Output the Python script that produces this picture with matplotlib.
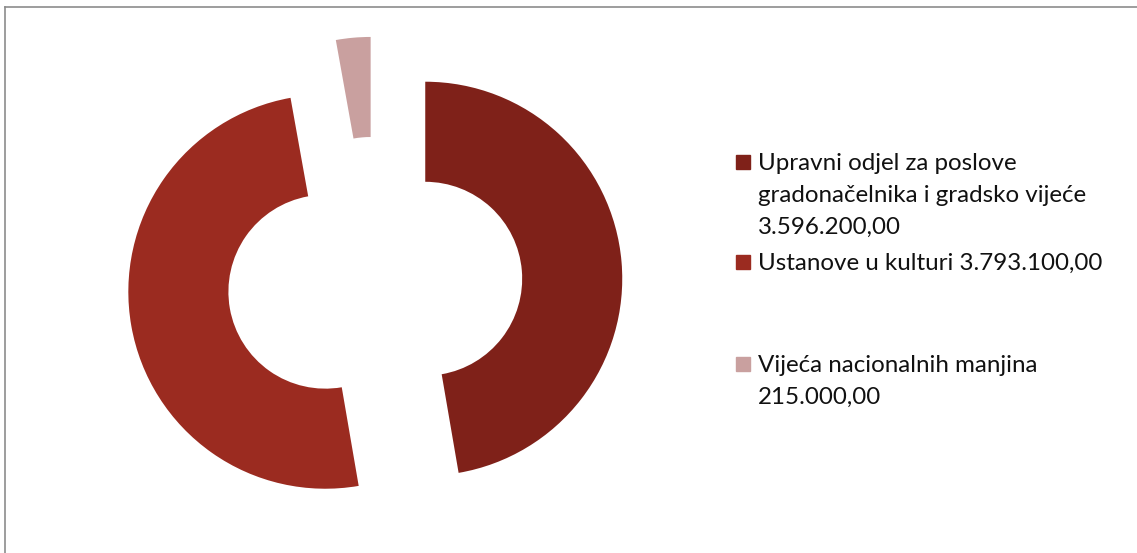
import matplotlib.pyplot as plt
from matplotlib.patches import Rectangle
from matplotlib.lines import Line2D

# data
names = ["Upravni odjel za poslove\ngradonačelnika i gradsko vijeće\n",
         "Ustanove u kulturi ",
         "Vijeća nacionalnih manjina\n"]
values = [3596200, 3793100, 215000]
value_txt = ["3.596.200,00", "3.793.100,00", "215.000,00"]
colors = ["#7f2119", "#9b2b20", "#c9a09f"]

W, H = 1137, 553
fig = plt.figure(figsize=(W / 100, H / 100), dpi=100)
ax = fig.add_axes([0, 0, 1, 1])

# pie geometry in pixels: centre (375, 283), radius 197
R = 197.0
cx, cy = 375.0, 283.0
ax.pie(values, colors=colors, startangle=90, counterclock=False,
       radius=1, explode=[0.256, 0.256, 0.25],
       wedgeprops=dict(width=0.508, linewidth=0))
ax.set_xlim(-cx / R, (W - cx) / R)
ax.set_ylim((cy - H) / R, cy / R)
ax.axis("off")

# border (top and left only visible)
fig.add_artist(Line2D([5 / W, 5 / W], [0, 1 - 7 / H], transform=fig.transFigure,
                      color="#8c8c8c", lw=1.2))
fig.add_artist(Line2D([5 / W, 1], [1 - 7 / H, 1 - 7 / H], transform=fig.transFigure,
                      color="#8c8c8c", lw=1.2))

# legend, drawn by hand, one line at a time
baselines = [170, 270, 372]  # baseline of first line of each entry, px from top
step = 32
for name, txt, col, b in zip(names, value_txt, colors, baselines):
    fig.add_artist(Rectangle((736 / W, 1 - (b - 1) / H), 14 / W, 14 / H,
                             transform=fig.transFigure, color=col))
    for i, line in enumerate((name + txt).split("\n")):
        fig.text(758 / W, 1 - (b + i * step) / H, line, ha="left", va="baseline",
                 fontsize=17.4, family="Lato", color="#111111")

fig.savefig("out.png", dpi=100)
